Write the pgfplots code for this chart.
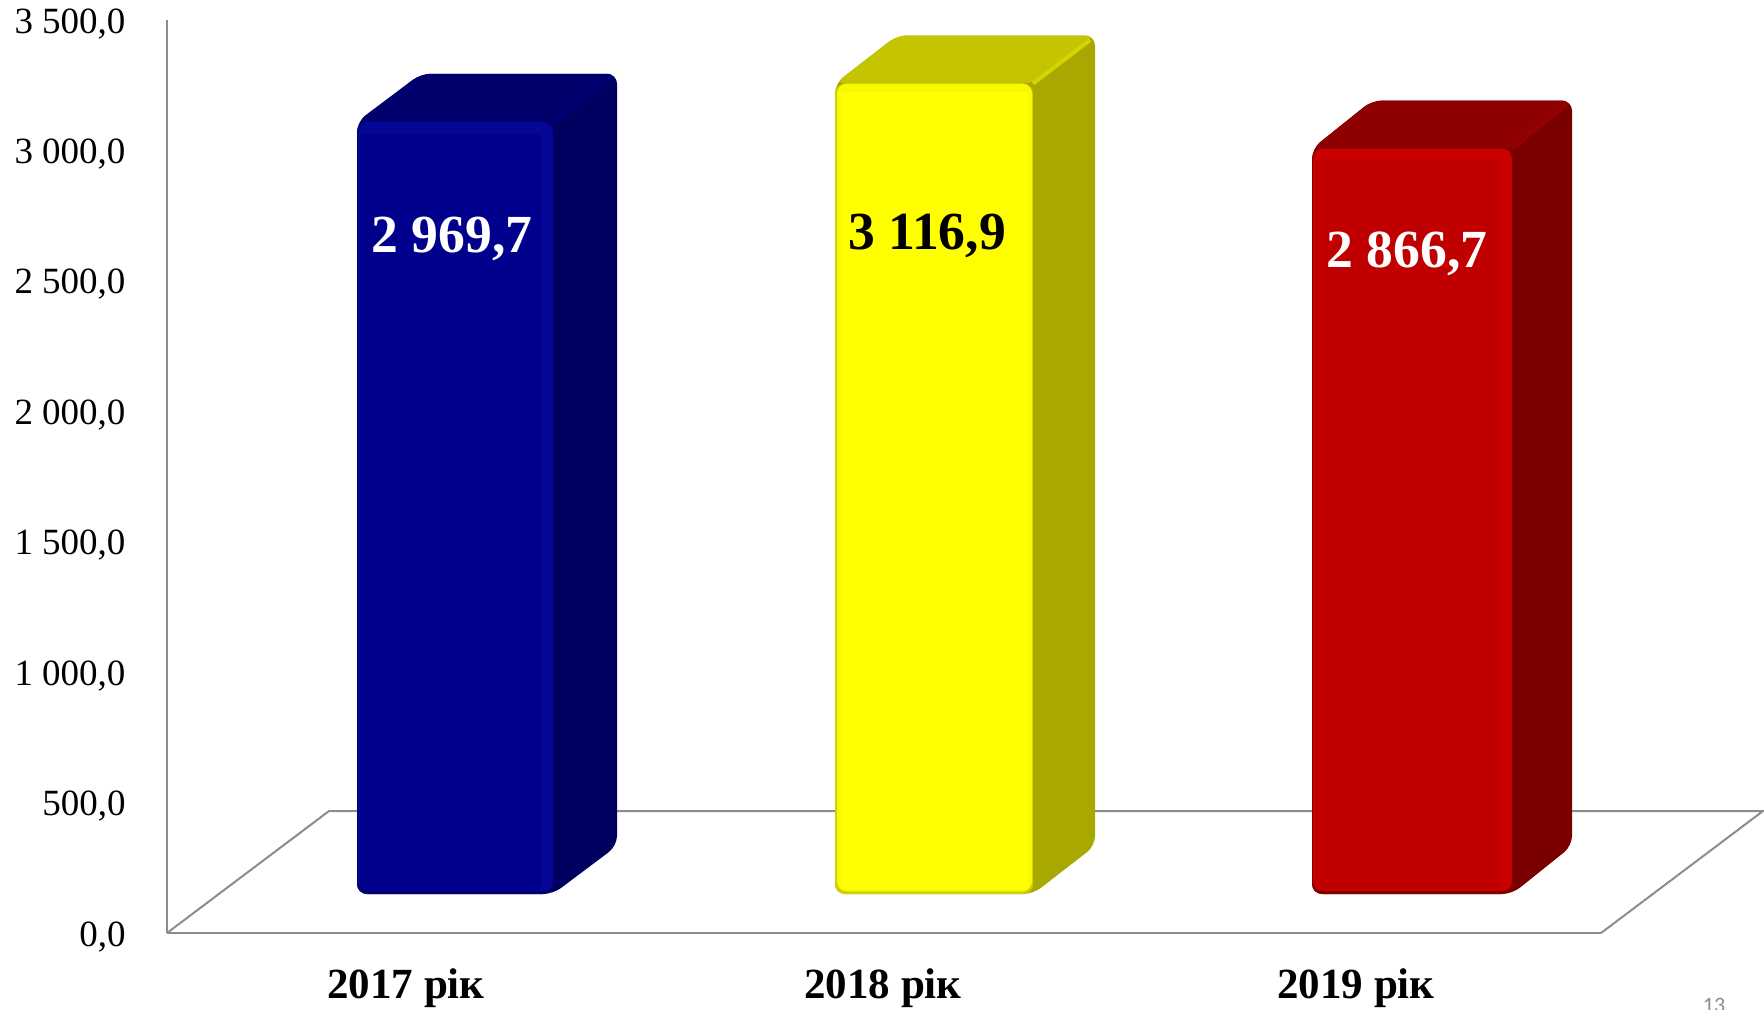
\documentclass[border=0pt]{standalone}
\usepackage{fontspec}
\setmainfont{Liberation Serif}
\newfontfamily\pagefont{Carlito}
\usepackage{pgfplots}
\pgfplotsset{compat=1.18}
\definecolor{axgray}{HTML}{8C8C8C}
\definecolor{bF}{HTML}{00008C}\definecolor{bE}{HTML}{000070}\definecolor{bS}{HTML}{050596}\definecolor{bT}{HTML}{00006C}\definecolor{bD}{HTML}{000060}\definecolor{bR}{HTML}{000074}
\definecolor{yF}{HTML}{FFFF00}\definecolor{yE}{HTML}{D0D000}\definecolor{yS}{HTML}{F8F800}\definecolor{yT}{HTML}{C4C400}\definecolor{yD}{HTML}{A8A800}\definecolor{yR}{HTML}{D4D400}
\definecolor{rF}{HTML}{C00000}\definecolor{rE}{HTML}{800000}\definecolor{rS}{HTML}{CA0000}\definecolor{rT}{HTML}{8F0000}\definecolor{rD}{HTML}{7A0000}\definecolor{rR}{HTML}{960000}
\begin{document}
\begin{tikzpicture}
\path[use as bounding box] (0,0) rectangle (882pt,504.5pt);
% main axis and floor
\begin{axis}[
  at={(83.5pt,38pt)},anchor=south west,scale only axis,
  width=717pt,height=456.5pt,
  xmin=167,xmax=1601,ymin=0,ymax=3500,
  clip=false,
  axis x line=bottom,axis y line=left,
  axis line style={draw=axgray,line width=1.2pt,-},
  xtick={406,883,1356},
  xticklabels={2017 рік,2018 рік,2019 рік},
  xticklabel style={font=\fontsize{21.5}{24}\selectfont\bfseries,anchor=base,yshift=-32.5pt},
  ytick={0,500,1000,1500,2000,2500,3000,3500},
  yticklabel style={font=\fontsize{18.5}{20}\selectfont,anchor=east,xshift=-17.2pt,yshift=-1.8pt,
    /pgf/number format/.cd,fixed,fixed zerofill,precision=1,use comma,1000 sep={\ },assume math mode=true},
  major tick length=0pt,
  tick style={draw=none},
]
\addplot[draw=axgray,line width=1pt] coordinates {(167,0)(329,467.6)(1763,467.6)(1601,0)};
\end{axis}
% bars
\begin{axis}[
  at={(83.5pt,57.5pt)},anchor=south west,scale only axis,
  width=717pt,height=442pt,
  xmin=167,xmax=1601,ymin=0,ymax=3400,
  clip=false,hide axis,
  every axis plot/.append style={draw=none,rounded corners=5pt},
]
% 2017
\addplot[fill=bD] coordinates {(450,0)(553,0)(617,185)(617,3154.7)(421,3154.7)(357,2969.7)(357,0)(450,0)};
\addplot[fill=bT] coordinates {(450,2969.7)(357,2969.7)(421,3154.7)(617,3154.7)(553,2969.7)(450,2969.7)};
\addplot[draw=bR,line width=2pt,rounded corners=0pt] coordinates {(553,2969.7)(612,3140)};
\addplot[fill=bE] coordinates {(450,0)(553,0)(553,2969.7)(357,2969.7)(357,0)(450,0)};
\addplot[fill=bS] coordinates {(450,12)(553,12)(553,2969.7)(358,2969.7)(358,12)(450,12)};
\addplot[fill=bF,rounded corners=0pt] coordinates {(360,15)(541,15)(541,2925)(360,2925)};
% 2018
\addplot[fill=yD] coordinates {(930,0)(1033,0)(1095,185)(1095,3301.9)(897,3301.9)(835,3116.9)(835,0)(930,0)};
\addplot[fill=yT] coordinates {(930,3116.9)(835,3116.9)(897,3301.9)(1095,3301.9)(1033,3116.9)(930,3116.9)};
\addplot[draw=yR,line width=2pt,rounded corners=0pt] coordinates {(1033,3116.9)(1090,3285)};
\addplot[fill=yE] coordinates {(930,0)(1033,0)(1033,3116.9)(835,3116.9)(835,0)(930,0)};
\addplot[fill=yS] coordinates {(930,10)(1032,10)(1032,3116.9)(837,3116.9)(837,10)(930,10)};
\addplot[fill=yF,rounded corners=0pt] coordinates {(841,18)(1028,18)(1028,3085)(841,3085)};
% 2019
\addplot[fill=rD] coordinates {(1410,0)(1512,0)(1572,185)(1572,3051.7)(1372,3051.7)(1312,2866.7)(1312,0)(1410,0)};
\addplot[fill=rT] coordinates {(1410,2866.7)(1312,2866.7)(1372,3051.7)(1572,3051.7)(1512,2866.7)(1410,2866.7)};
\addplot[draw=rR,line width=2pt,rounded corners=0pt] coordinates {(1512,2866.7)(1567,3037)};
\addplot[fill=rE] coordinates {(1410,0)(1512,0)(1512,2866.7)(1312,2866.7)(1312,0)(1410,0)};
\addplot[fill=rS] coordinates {(1410,12)(1512,12)(1512,2866.7)(1313,2866.7)(1313,12)(1410,12)};
\addplot[fill=rF,rounded corners=0pt] coordinates {(1315,18)(1499,18)(1499,2825)(1315,2825)};
% value labels
\node[font=\fontsize{26.8}{28}\selectfont\bfseries,text=white] at (axis cs:452,2518) {2 969,7};
\node[font=\fontsize{26.8}{28}\selectfont\bfseries,text=black] at (axis cs:927,2532) {3 116,9};
\node[font=\fontsize{26.8}{28}\selectfont\bfseries,text=white] at (axis cs:1407,2461) {2 866,7};
\end{axis}
\node[font=\pagefont\fontsize{11}{12}\selectfont,text=axgray,anchor=base] at (857pt,-1.5pt) {13};
\end{tikzpicture}
\end{document}
